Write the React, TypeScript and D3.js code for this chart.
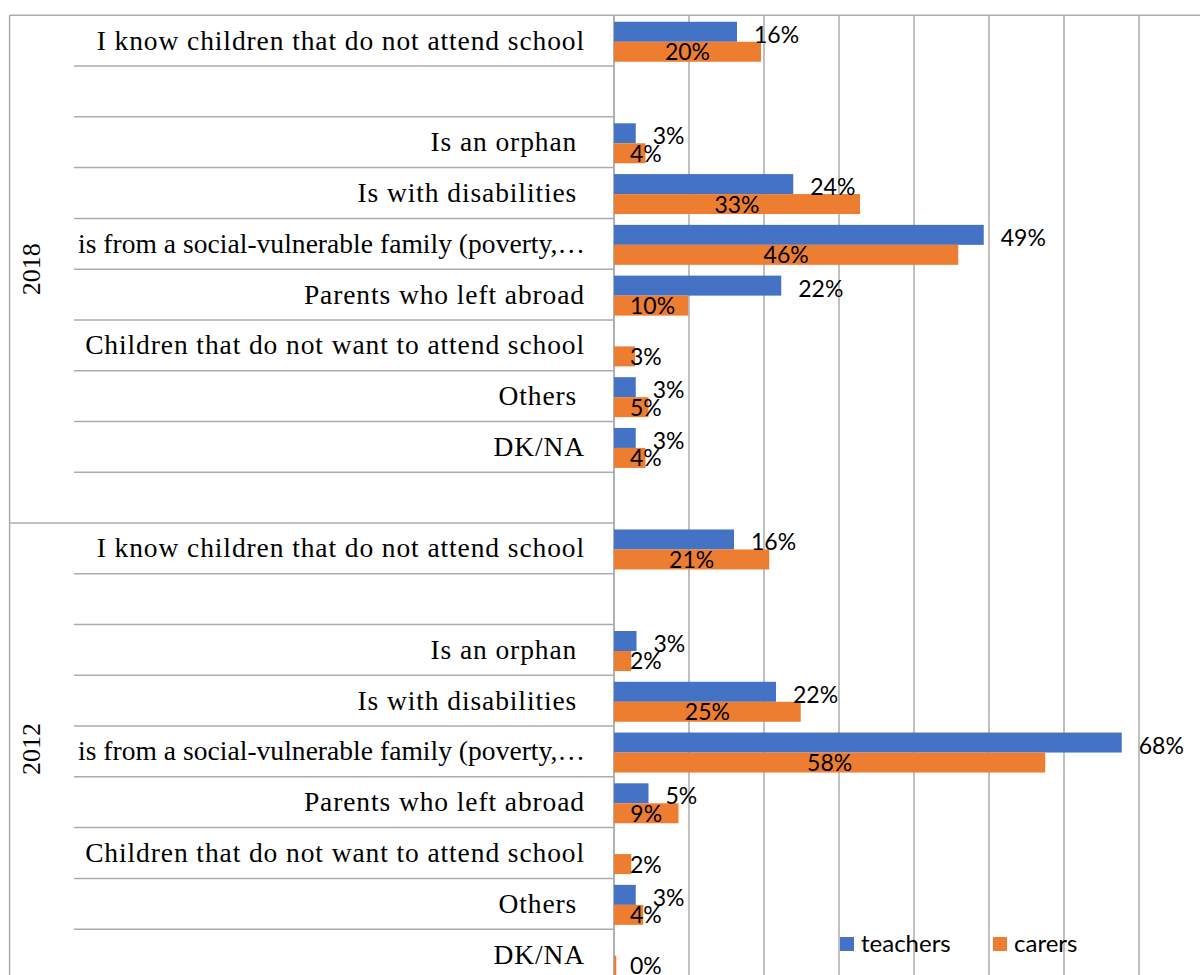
import React from 'react';
import * as d3 from 'd3';

const years = ['2018', '2012'];
const categories = [
  'I know children that do not attend school',
  '',
  'Is an orphan ',
  'Is with disabilities ',
  'is from a social-vulnerable family (poverty,…',
  'Parents who left abroad',
  'Children that do not want to attend school',
  'Others ',
  'DK/NA',
  '',
];
const seriesNames = ['teachers', 'carers'];
const teachers2018: (number | null)[] = [16.4, null, 2.9, 23.9, 49.3, 22.3, null, 2.9, 2.9, null];
const carers2018: (number | null)[] = [19.6, null, 4.2, 32.8, 45.9, 9.9, 2.8, 4.6, 4.2, null];
const teachers2012: (number | null)[] = [16.0, null, 3.0, 21.6, 67.7, 4.6, null, 2.9, null, null];
const carers2012: (number | null)[] = [20.7, null, 2.3, 24.9, 57.5, 8.6, 2.3, 3.9, 0.3, null];
const xTicks = [0, 10, 20, 30, 40, 50, 60, 70, 80];

const W = 1200;
const H = 975;
const PLOT_LEFT = 614;
const PLOT_RIGHT = 1214;
const TOP = 15.3;
const ROW_H = 50.77;
const FRAME_X = 9.6;
const ROWLINE_X = 74;
const LABEL_RIGHT = 585;
const LABEL_MAX_W = 507;
const COLORS: Record<string, string> = { teachers: '#4472C4', carers: '#ED7D31' };
const GRID = '#ababab';
const LABEL_FONT = 'Lato, "Open Sans", sans-serif';
const LABEL_SIZE = 23;
const CAT_FONT = '"Liberation Serif", "Times New Roman", serif';
const CAT_SIZE = 27.5;
const CAT_SPACING = 0.9;

let ctx: CanvasRenderingContext2D | null = null;
function getCtx() {
  if (!ctx) {
    const c = document.createElement('canvas');
    ctx = c.getContext('2d');
  }
  return ctx;
}
function textWidth(t: string) {
  const c = getCtx();
  if (!c) return t.length * LABEL_SIZE * 0.55;
  c.font = `${LABEL_SIZE}px Lato`;
  return c.measureText(t).width;
}
function catSpacing(t: string) {
  const c = getCtx();
  if (!c) return CAT_SPACING;
  c.font = `${CAT_SIZE}px "Liberation Serif"`;
  const natural = c.measureText(t).width;
  const n = t.length;
  const fit = (LABEL_MAX_W - natural) / n;
  return Math.min(CAT_SPACING, fit);
}

export default function App() {
  const seriesByYear: Record<string, Record<string, (number | null)[]>> = {
    '2018': { teachers: teachers2018, carers: carers2018 },
    '2012': { teachers: teachers2012, carers: carers2012 },
  };
  const nRows = years.length * categories.length;
  const x = d3.scaleLinear().domain([0, 80]).range([PLOT_LEFT, PLOT_RIGHT]);
  const y = d3
    .scaleBand<number>()
    .domain(d3.range(nRows))
    .range([TOP, TOP + nRows * ROW_H]);
  const inner = d3
    .scaleBand<string>()
    .domain(seriesNames)
    .range([0, y.bandwidth()])
    .paddingOuter(0.27)
    .align(0.6);
  const fmt = (v: number) => `${Math.round(v)}%`;

  const rows = years.flatMap((yr, g) =>
    categories.map((cat, i) => ({ yr, g, i, cat, idx: g * categories.length + i }))
  );

  return (
    <svg
      width={W}
      height={H}
      style={{ position: 'absolute', left: 0, top: 0, background: '#fff' }}
    >
      {/* vertical gridlines */}
      {xTicks.map((t) => (
        <line
          key={'g' + t}
          x1={x(t)}
          x2={x(t)}
          y1={TOP}
          y2={TOP + nRows * ROW_H}
          stroke={GRID}
          strokeWidth={1.5}
        />
      ))}
      {/* top line */}
      <line x1={FRAME_X} x2={W} y1={TOP} y2={TOP} stroke={GRID} strokeWidth={1.5} />
      {/* left frame */}
      <line x1={FRAME_X} x2={FRAME_X} y1={TOP} y2={TOP + nRows * ROW_H} stroke={GRID} strokeWidth={1.5} />
      {/* row separators */}
      {rows.map((r) => {
        const yy = (y(r.idx) as number) + y.bandwidth();
        const isGroupEnd = r.i === categories.length - 1;
        return (
          <line
            key={'rl' + r.idx}
            x1={isGroupEnd ? FRAME_X : ROWLINE_X}
            x2={PLOT_LEFT}
            y1={yy}
            y2={yy}
            stroke={GRID}
            strokeWidth={1.5}
          />
        );
      })}
      {/* category labels */}
      {rows.map((r) =>
        r.cat ? (
          <text
            key={'c' + r.idx}
            x={LABEL_RIGHT}
            y={(y(r.idx) as number) + y.bandwidth() / 2 + 9}
            textAnchor="end"
            fontFamily={CAT_FONT}
            fontSize={CAT_SIZE}
            letterSpacing={catSpacing(r.cat)}
            fill="#000"
            style={{ whiteSpace: 'pre' }}
          >
            {r.cat}
          </text>
        ) : null
      )}
      {/* year labels */}
      {years.map((yr, g) => {
        const y0 = y(g * categories.length) as number;
        const y1 = Math.min(y0 + categories.length * ROW_H, H);
        const cy = (y0 + y1) / 2;
        return (
          <text
            key={'yr' + yr}
            transform={`translate(${40},${cy}) rotate(-90)`}
            textAnchor="middle"
            fontFamily={CAT_FONT}
            fontSize={26}
            fill="#000"
          >
            {yr}
          </text>
        );
      })}
      {/* axis line */}
      <line x1={PLOT_LEFT} x2={PLOT_LEFT} y1={TOP} y2={TOP + nRows * ROW_H} stroke={GRID} strokeWidth={1.5} />
      {/* bars */}
      {rows.map((r) =>
        seriesNames.map((s) => {
          const v = seriesByYear[r.yr][s][r.i];
          if (v === null || v === undefined) return null;
          const by = (y(r.idx) as number) + (inner(s) as number);
          return (
            <rect
              key={'b' + r.idx + s}
              x={x(0)}
              y={by}
              width={Math.max(0, x(v) - x(0))}
              height={inner.bandwidth()}
              fill={COLORS[s]}
            />
          );
        })
      )}
      {/* labels */}
      {rows.map((r) =>
        seriesNames.map((s) => {
          const v = seriesByYear[r.yr][s][r.i];
          if (v === null || v === undefined) return null;
          const by = (y(r.idx) as number) + (inner(s) as number);
          const bottom = by + inner.bandwidth();
          const label = fmt(v);
          if (s === 'teachers') {
            return (
              <text
                key={'l' + r.idx + s}
                x={x(v) + 17}
                y={bottom + 1}
                textAnchor="start"
                fontFamily={LABEL_FONT}
                fontSize={LABEL_SIZE}
                fill="#000"
              >
                {label}
              </text>
            );
          }
          const w = textWidth(label);
          const cx = Math.max((x(0) + x(v)) / 2, x(0) + 16 + w / 2);
          return (
            <text
              key={'l' + r.idx + s}
              x={cx}
              y={bottom - 1.5}
              textAnchor="middle"
              fontFamily={LABEL_FONT}
              fontSize={LABEL_SIZE}
              fill="#000"
            >
              {label}
            </text>
          );
        })
      )}
      {/* legend */}
      {seriesNames.map((s, k) => {
        const lx = 840 + k * 153;
        return (
          <g key={'lg' + s}>
            <rect x={lx} y={937} width={14} height={14} fill={COLORS[s]} />
            <text
              x={lx + 21}
              y={952}
              fontFamily={LABEL_FONT}
              fontSize={LABEL_SIZE + 1}
              fill="#000"
            >
              {s}
            </text>
          </g>
        );
      })}
    </svg>
  );
}
